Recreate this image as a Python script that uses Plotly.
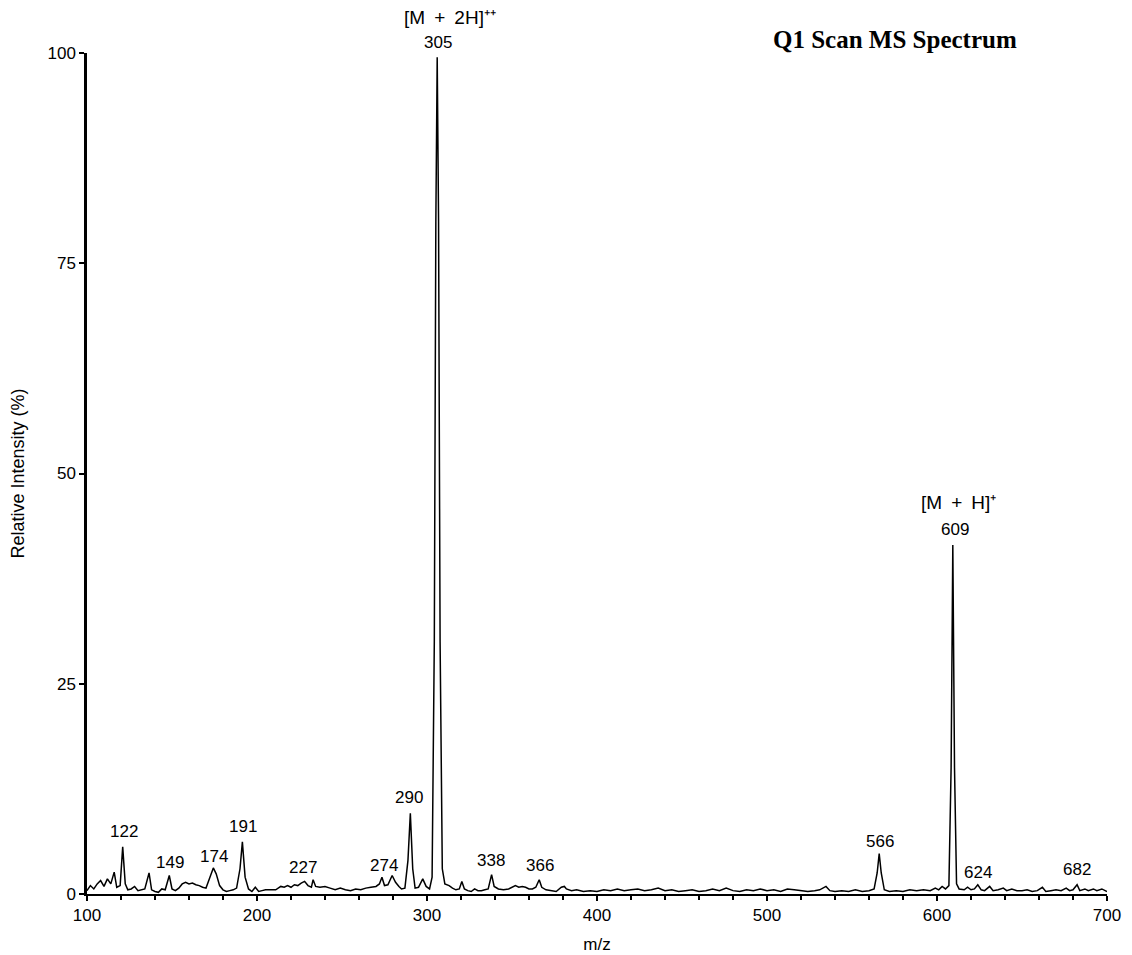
import plotly.graph_objects as go

# Spectrum trace (m/z, relative intensity %)
mz = [100, 102, 104, 106, 108, 110, 112, 114, 116, 117.5, 119.5, 121, 122.5, 124, 126, 128, 130,
      132, 134, 136.5, 138, 140, 142, 144, 146, 148.4, 150, 152, 154, 156, 158, 160, 162, 164, 166,
      168, 170, 172, 174.3, 176, 178, 180, 182, 184, 186, 188, 190, 191.4, 193, 195, 197, 199, 201,
      203, 205, 208, 211, 214, 216, 218, 220, 222, 224, 226, 228, 230, 232, 233, 234.5, 237, 240,
      243, 246, 249, 252, 255, 258, 261, 264, 267, 270, 272, 273.5, 275, 277, 279.5, 281.5, 283.5,
      285, 287, 288.8, 290.2, 291.6, 293, 295, 297.5, 299.5, 301.5, 303, 304.3, 305.2, 306, 306.8,
      307.7, 309, 310.5, 313, 315, 317, 319, 320.5, 322, 324, 326, 328, 330, 332, 334, 336, 338,
      339.5, 342, 345, 348, 350, 352, 354, 356, 358, 360, 362, 364, 366, 367.5, 370, 373, 376, 379,
      380.8, 382, 385, 388, 392, 396, 400, 404, 408, 412, 416, 420, 424, 428, 432, 436, 440, 444,
      448, 452, 456, 460, 464, 468, 472, 476, 480, 484, 488, 492, 496, 500, 504, 508, 512, 516, 520,
      524, 528, 531, 534.7, 537, 540, 544, 548, 552, 556, 560, 563, 564.8, 566, 567.2, 569, 572, 576,
      580, 584, 588, 592, 596, 599, 601, 603, 605, 607, 608.3, 609.3, 610.3, 611.5, 613, 616, 618,
      620, 622, 624, 626, 628, 631, 633, 636, 639, 641, 644, 647, 650, 653, 656, 659, 662, 664, 667,
      670, 673, 676, 678, 680, 682.4, 684, 687, 689, 692, 694, 697, 700]
intensity = [0.4, 1.0, 0.6, 1.2, 1.6, 0.9, 1.8, 1.2, 2.6, 0.8, 1.0, 5.6, 1.2, 0.5, 0.6, 0.9, 0.4,
             0.5, 0.6, 2.5, 0.5, 0.3, 0.2, 0.6, 0.5, 2.2, 0.6, 0.4, 0.7, 1.2, 1.4, 1.2, 1.3, 1.1, 1.0,
             0.8, 0.7, 1.8, 3.1, 2.4, 1.0, 0.5, 0.3, 0.4, 0.5, 0.7, 3.0, 6.2, 2.0, 0.6, 0.3, 0.8, 0.3,
             0.4, 0.5, 0.5, 0.5, 0.9, 0.8, 1.0, 0.8, 1.1, 1.0, 1.3, 1.5, 1.0, 0.8, 1.7, 0.9, 0.8, 0.9,
             0.7, 0.5, 0.7, 0.5, 0.4, 0.6, 0.5, 0.7, 0.8, 0.9, 1.2, 2.0, 1.0, 1.1, 2.2, 1.4, 0.9,
             0.6, 0.7, 4.0, 9.6, 3.0, 0.7, 0.8, 1.8, 0.9, 0.6, 2.0, 30, 80, 99.5, 80,
             30, 3.0, 1.2, 1.0, 0.7, 0.5, 0.6, 1.5, 0.6, 0.4, 0.3, 0.6, 0.4, 0.4, 0.5, 0.6, 2.3,
             0.9, 0.6, 0.5, 0.6, 0.8, 1.0, 0.8, 0.9, 0.8, 0.6, 0.6, 0.8, 1.7, 0.8, 0.5, 0.4, 0.3, 0.8,
             0.9, 0.6, 0.4, 0.5, 0.3, 0.4, 0.3, 0.5, 0.4, 0.6, 0.4, 0.5, 0.6, 0.4, 0.5, 0.7, 0.4, 0.5,
             0.3, 0.4, 0.5, 0.3, 0.4, 0.6, 0.4, 0.7, 0.4, 0.3, 0.5, 0.4, 0.6, 0.4, 0.5, 0.3, 0.6, 0.5, 0.4,
             0.3, 0.4, 0.5, 0.9, 0.4, 0.3, 0.4, 0.3, 0.5, 0.3, 0.4, 0.6, 2.5, 4.8, 2.5, 0.5, 0.3, 0.4,
             0.3, 0.5, 0.4, 0.5, 0.4, 0.7, 0.5, 0.9, 0.6, 1.0, 15, 41.5, 15, 1.2, 0.6, 0.5, 0.8,
             0.5, 0.6, 1.1, 0.5, 0.4, 0.9, 0.4, 0.5, 0.7, 0.4, 0.6, 0.4, 0.4, 0.5, 0.3, 0.4, 0.8, 0.3, 0.4,
             0.5, 0.4, 0.7, 0.4, 0.5, 1.1, 0.4, 0.6, 0.4, 0.6, 0.4, 0.6, 0.3]

# Peak labels: text, x (m/z), y (%)
peak_labels = ["122", "149", "174", "191", "227", "274", "290", "338", "366", "566", "624", "682",
               "305", "609"]
peak_label_x = [121.8, 148.8, 174.7, 191.8, 227.1, 274.7, 289.4, 337.6, 366.5, 566.5, 624.1, 682.4,
                306.5, 610.6]
peak_label_y = [7.4, 3.8, 4.4, 8.0, 3.1, 3.4, 11.5, 4.0, 3.4, 6.3, 2.6, 2.9, 101.3, 43.3]

ion_labels = ["[M\u2009 + \u20092H]\u207a\u207a", "[M\u2009 + \u2009H]\u207a"]
ion_label_x = [313.5, 612.4]
ion_label_y = [104.2, 46.5]

y_ticks = [0, 25, 50, 75, 100]
x_ticks = [100, 200, 300, 400, 500, 600, 700]
Y_MAX = 100

FONT = "Liberation Sans, Arial, sans-serif"

fig = go.Figure()
fig.add_trace(go.Scatter(x=mz, y=intensity, mode="lines",
                         line=dict(color="black", width=1.5), showlegend=False,
                         hoverinfo="skip"))

for t, x, y in zip(peak_labels, peak_label_x, peak_label_y):
    fig.add_annotation(x=x, y=y / Y_MAX, text=t, showarrow=False, xref="x", yref="paper",
                       xanchor="center", yanchor="middle",
                       font=dict(family=FONT, size=17, color="black"))
for t, x, y in zip(ion_labels, ion_label_x, ion_label_y):
    fig.add_annotation(x=x, y=y / Y_MAX, text=t, showarrow=False, xref="x", yref="paper",
                       xanchor="center", yanchor="middle",
                       font=dict(family=FONT, size=19, color="black"))

# page body adds an 8px offset; plot area in screen pixels: x 87..1107, y 53..894
L, R, T, B = 79, 25, 45, 61
W, H = 1124, 947
plot_w = W - L - R
plot_h = H - T - B
title_px_x, title_px_y = 895 - 8, 40 - 8
fig.add_annotation(x=(title_px_x - L) / plot_w, y=(H - B - title_px_y) / plot_h,
                   xref="paper", yref="paper", xanchor="center", yanchor="middle",
                   text="<b>Q1 Scan MS Spectrum</b>", showarrow=False,
                   font=dict(family="Liberation Serif, Times New Roman, serif",
                             size=25, color="black"))

fig.update_layout(
    width=W, height=H,
    margin=dict(l=L, r=R, t=T, b=B, autoexpand=False),
    paper_bgcolor="white", plot_bgcolor="white",
    xaxis=dict(range=[100, 700], tickvals=x_ticks, ticks="outside", ticklen=5, tickwidth=1.5,
               tickcolor="black", showgrid=False, zeroline=False, showline=True,
               linecolor="black", linewidth=2, automargin=False,
               minor=dict(dtick=20, ticks="outside", ticklen=4, tickcolor="black", tickwidth=1.5,
                          showgrid=False),
               tickfont=dict(family=FONT, size=17, color="black"),
               title=dict(text="m/z", font=dict(family=FONT, size=17, color="black"), standoff=14)),
    yaxis=dict(range=[0, Y_MAX], tickvals=y_ticks, ticks="outside", ticklen=5, tickwidth=1.5,
               tickcolor="black", showgrid=False, zeroline=False, showline=True,
               linecolor="black", linewidth=2.5, automargin=False,
               tickfont=dict(family=FONT, size=17, color="black"),
               title=dict(text="Relative Intensity (%)",
                          font=dict(family=FONT, size=18, color="black"), standoff=26)),
)

fig.write_html("out.html")
